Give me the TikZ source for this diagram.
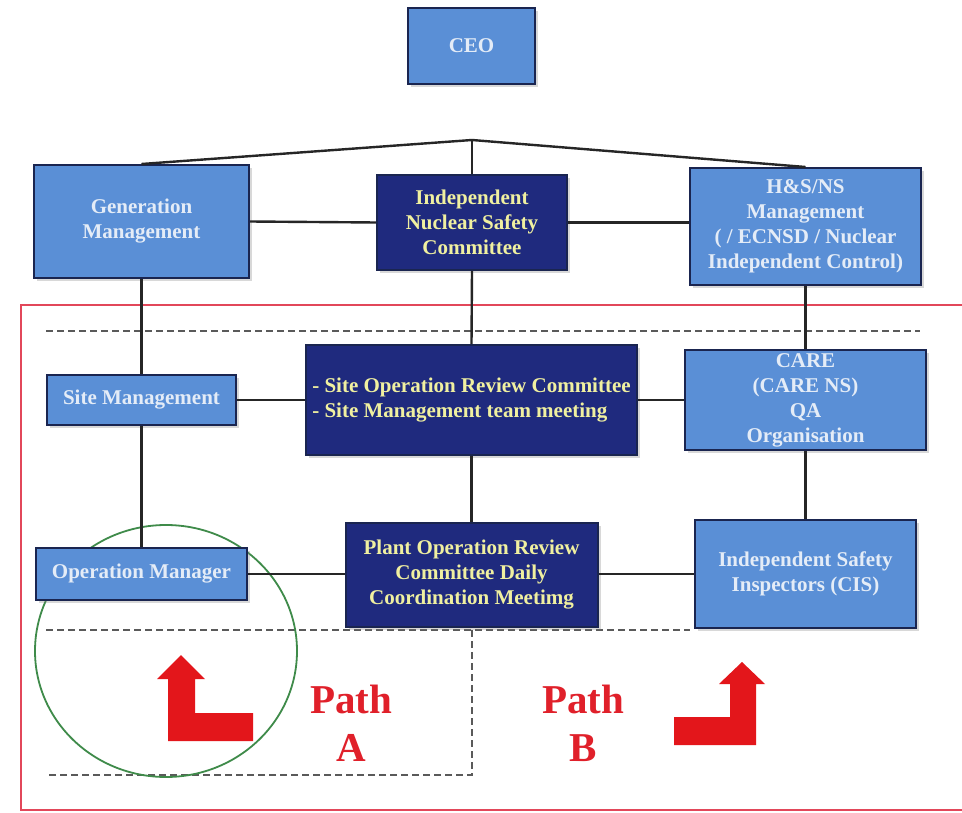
\documentclass[tikz,border=0pt]{standalone}
\usepackage{fontspec}
\setmainfont{Liberation Serif}
\usetikzlibrary{shadows}
\definecolor{lightbox}{HTML}{5A8FD6}
\definecolor{darkbox}{HTML}{1F2A7E}
\definecolor{boxedge}{HTML}{1A2550}
\definecolor{lighttext}{HTML}{E4ECF7}
\definecolor{yellowtext}{HTML}{F0F0A0}
\definecolor{redline}{HTML}{E2475A}
\definecolor{arrowred}{HTML}{E3161B}
\definecolor{pathred}{HTML}{E0202A}
\definecolor{greenring}{HTML}{3F8B4A}
\definecolor{dashgray}{HTML}{5A5A5A}
\tikzset{
  basebox/.style={draw=boxedge, line width=2pt, inner sep=0pt, align=center,
    font=\bfseries\fontsize{21}{25}\selectfont,
    drop shadow={shadow xshift=3pt, shadow yshift=-3pt, opacity=0.3}},
  lightnode/.style={basebox, fill=lightbox, text=lighttext},
  darknode/.style={basebox, fill=darkbox, text=yellowtext},
  link/.style={draw=black!85, line width=2.4pt},
  sepdash/.style={draw=dashgray, line width=2.4pt, dash pattern=on 7pt off 4pt},
  redarrow/.style={fill=arrowred, draw=none},
  pathlabel/.style={text=pathred, font=\bfseries\fontsize{41}{50}\selectfont, inner sep=0pt}
}
\begin{document}
\begin{tikzpicture}[x=1pt,y=-1pt]
\useasboundingbox (0,0) rectangle (962,813);
\fill[white] (0,0) rectangle (962,813);

% red frame
\draw[redline, line width=2.4pt] (962,305) -- (21,305) -- (21,810) -- (962,810);

% dashed separators
\draw[sepdash] (46,331) -- (920,331);
\draw[sepdash] (46,630) -- (690,630);
\draw[sepdash] (472,630) -- (472,775) -- (46,775);

% green ring (behind the boxes)
\draw[greenring, line width=1.8pt] (166,651) ellipse [x radius=131, y radius=126];

% nodes
\node[lightnode, minimum width=127pt, minimum height=76pt] (ceo) at (471.5,46) {CEO};
\node[lightnode, minimum width=215pt, minimum height=113pt] (gen) at (141.5,221.5) {Generation\\Management};
\node[darknode, minimum width=190pt, minimum height=95pt] (insc) at (472,222.5) {Independent\\Nuclear Safety\\Committee};
\node[lightnode, minimum width=231pt, minimum height=117pt] (hs) at (805.5,226.5) {H\&S/NS\\Management\\( / ECNSD / Nuclear\\Independent Control)};
\node[lightnode, minimum width=189pt, minimum height=50pt] (site) at (141.5,400) {Site Management};
\node[darknode, minimum width=331pt, minimum height=110pt, align=left] (sorc) at (471.5,400) {- Site Operation Review Committee\\- Site Management team meeting};
\node[lightnode, minimum width=241pt, minimum height=100pt] (care) at (805.5,400) {CARE\\(CARE NS)\\QA\\Organisation};
\node[lightnode, minimum width=211pt, minimum height=52pt] (opm) at (141.5,574) {Operation Manager};
\node[darknode, minimum width=252pt, minimum height=104pt] (por) at (471.5,575) {Plant Operation Review\\Committee Daily\\Coordination Meetimg};
\node[lightnode, minimum width=221pt, minimum height=108pt] (isi) at (805.5,574) {Independent Safety\\Inspectors (CIS)};

% connectors
\coordinate (apex) at (472,140);
\draw[link] (apex) -- (gen.north);
\draw[link] (apex) -- (hs.north);
\draw[link] (apex) -- (insc.north);
\draw[link] (gen.east) -- (insc.west);
\draw[link] (insc.east) -- (insc.east -| hs.west);
\draw[link] (gen.south) -- (site.north);
\draw[link] (site.south) -- (opm.north);
\draw[link] (insc.south) -- (sorc.north);
\draw[link] (sorc.south) -- (por.north);
\draw[link] (hs.south) -- (care.north);
\draw[link] (care.south) -- (isi.north);
\draw[link] (site.east) -- (sorc.west);
\draw[link] (sorc.east) -- (care.west);
\draw[link] (opm.east) -- (opm.east -| por.west);
\draw[link] (opm.east -| por.east) -- (opm.east -| isi.west);

% red arrows
\fill[redarrow] (181,655) -- (205,679) -- (195,679) -- (195,713) -- (253,713) -- (253,741) -- (168,741) -- (168,679) -- (157,679) -- cycle;
\fill[redarrow] (742,662) -- (765,684) -- (756,684) -- (756,745) -- (674,745) -- (674,717) -- (730,717) -- (730,684) -- (719,684) -- cycle;

% path labels
\node[pathlabel] (pa) at (351,699) {Path};
\node[pathlabel] (pal) at (351,748) {A};
\node[pathlabel] (pb) at (583,699) {Path};
\node[pathlabel] (pbl) at (583,748) {B};
\end{tikzpicture}
\end{document}
